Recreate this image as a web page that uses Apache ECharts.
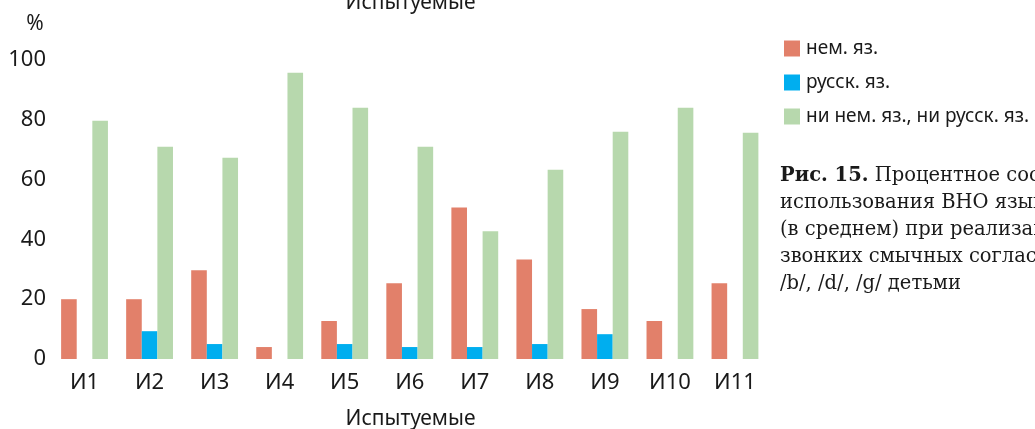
<!DOCTYPE html>
<html>
<head>
<meta charset="utf-8">
<script src="https://cdn.jsdelivr.net/npm/echarts@6/dist/echarts.min.js"></script>
<style>html,body{margin:0;padding:0;background:#fff;}#c{width:1035px;height:429px;}</style>
</head>
<body>
<div id="c"></div>
<script>
const categories = ['И1','И2','И3','И4','И5','И6','И7','И8','И9','И10','И11'];
const seriesNames = ['нем. яз.', 'русск. яз.', 'ни нем. яз., ни русск. яз.'];
const germanValues = [20, 20, 29.7, 4, 12.7, 25.3, 50.7, 33.3, 16.7, 12.7, 25.3];
const russianValues = [0, 9.3, 5, 0, 5, 4, 4, 5, 8.3, 0, 0];
const neitherValues = [79.7, 71, 67.3, 95.7, 84, 71, 42.7, 63.3, 76, 84, 75.7];
const yTicks = [0, 20, 40, 60, 80, 100];
const axisTitle = 'Испытуемые';
const yUnit = '%';
const captionBold = 'Рис. 15.';
const captionLines = ['Процентное соотношение', 'использования ВНО языков', '(в среднем) при реализации', 'звонких смычных согласных', '/b/, /d/, /g/ детьми'];

const colors = ['#E2806A', '#00AEEF', '#B7D8AD'];
const sansFont = '"Noto Sans", sans-serif';
const chart = echarts.init(document.getElementById('c'), null, {renderer: 'canvas'});

const captionText = '{b|' + captionBold + '} ' + captionLines.join('\n');

chart.setOption({
  animation: false,
  backgroundColor: '#ffffff',
  color: colors,
  grid: {left: 52, right: 267.5, top: 60, bottom: 70, containLabel: false},
  legend: {
    orient: 'vertical',
    left: 779,
    top: 34,
    itemWidth: 16,
    itemHeight: 16,
    itemGap: 15,
    icon: 'rect',
    data: seriesNames,
    textStyle: {fontFamily: sansFont, fontSize: 19, lineHeight: 16, color: '#1a1a1a', padding: [0,0,0,1]}
  },
  xAxis: {
    type: 'category',
    data: categories,
    axisLine: {show: false},
    axisTick: {show: false},
    axisLabel: {fontFamily: sansFont, fontSize: 22, color: '#1a1a1a', margin: 13}
  },
  yAxis: {
    type: 'value',
    min: yTicks[0],
    max: yTicks[yTicks.length - 1],
    interval: yTicks[1] - yTicks[0],
    splitLine: {show: false},
    axisLine: {show: false},
    axisTick: {show: false},
    axisLabel: {fontFamily: sansFont, fontSize: 22, color: '#1a1a1a', margin: 6}
  },
  graphic: [
    {type: 'text', style: {text: axisTitle, x: 410.5, y: 3.5, align: 'center', verticalAlign: 'middle', font: '21px "Noto Sans"', fill: '#1a1a1a'}},
    {type: 'text', style: {text: axisTitle, x: 410.5, y: 419, align: 'center', verticalAlign: 'middle', font: '21px "Noto Sans"', fill: '#1a1a1a'}},
    {type: 'text', style: {text: yUnit, x: 35, y: 24, align: 'center', verticalAlign: 'middle', font: '21px "Noto Sans"', fill: '#1a1a1a'}},
    {type: 'text', style: {
      text: captionText, x: 780, y: 162, align: 'left', verticalAlign: 'top',
      fontFamily: '"DejaVu Serif", serif', fontSize: 19.5, lineHeight: 27, fill: '#1a1a1a',
      rich: {b: {fontFamily: '"DejaVu Serif", serif', fontSize: 19.5, fontWeight: 'bold', lineHeight: 27, fill: '#1a1a1a'}}
    }}
  ],
  series: [
    {name: seriesNames[0], type: 'bar', data: germanValues, barGap: '0%', barCategoryGap: '28%'},
    {name: seriesNames[1], type: 'bar', data: russianValues, barGap: '0%', barCategoryGap: '28%'},
    {name: seriesNames[2], type: 'bar', data: neitherValues, barGap: '0%', barCategoryGap: '28%'}
  ]
});
</script>
</body>
</html>
